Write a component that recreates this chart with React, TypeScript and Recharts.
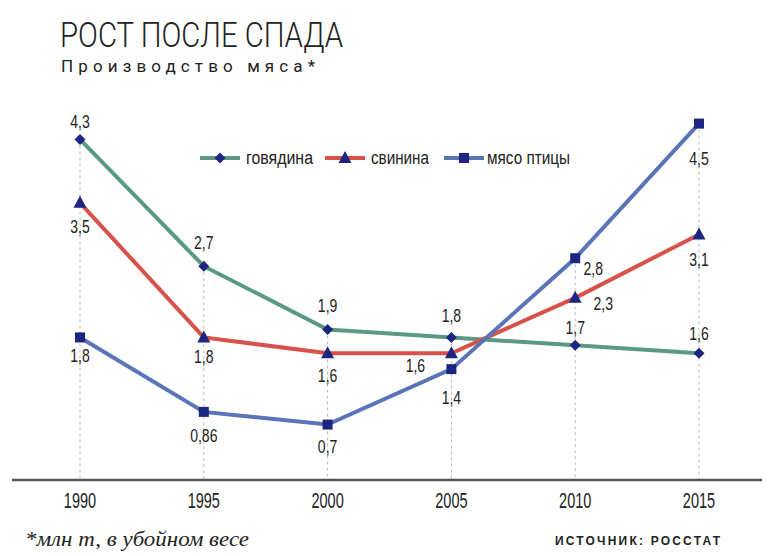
import React from 'react';
import { LineChart, Line, XAxis, YAxis, ReferenceLine, LabelList } from 'recharts';

const years = ['1990', '1995', '2000', '2005', '2010', '2015'];
const beef = [4.3, 2.7, 1.9, 1.8, 1.7, 1.6];
const pork = [3.5, 1.8, 1.6, 1.6, 2.3, 3.1];
const poultry = [1.8, 0.86, 0.7, 1.4, 2.8, 4.5];
const seriesNames = ['говядина', 'свинина', 'мясо птицы'];
const title = 'РОСТ ПОСЛЕ СПАДА';
const subtitle = 'Производство мяса*';
const footnote = '*млн т, в убойном весе';
const source = 'ИСТОЧНИК: РОССТАТ';

// label placement offsets [dx, dy] per point
const beefOff = [[0, -18], [0, -24], [0, -24], [0, -22], [0, -18], [0, -20]];
const porkOff = [[0, 24], [0, 19], [0, 22], [-36, 12], [28, 5], [0, 25]];
const poultryOff = [[0, 18], [0, 23], [0, 22], [0, 28], [18, 10], [0, 35]];

const data = years.map((y, i) => ({ year: y, beef: beef[i], pork: pork[i], poultry: poultry[i] }));

const SANS = "'Liberation Sans', Arial, sans-serif";
const GREEN = '#5b9a82';
const RED = '#d6524a';
const BLUE = '#5a74b8';
const NAVY = '#1c2580';

const Marker = ({ shape, cx, cy }: { shape: string; cx: number; cy: number }) => {
  if (shape === 'diamond') {
    const s = 5.5;
    return <path d={`M${cx},${cy - s}L${cx + s},${cy}L${cx},${cy + s}L${cx - s},${cy}Z`} fill={NAVY} />;
  }
  if (shape === 'triangle') {
    return <path d={`M${cx},${cy - 7}L${cx + 6.5},${cy + 5}L${cx - 6.5},${cy + 5}Z`} fill={NAVY} />;
  }
  return <rect x={cx - 5} y={cy - 5} width={10} height={10} fill={NAVY} />;
};

const makeDot = (shape: string) => (props: any) => (
  <Marker key={`${shape}-${props.index}`} shape={shape} cx={props.cx} cy={props.cy} />
);

const fmt = (v: number) => String(v).replace('.', ',');

const CondText = ({ x, y, size, sx, children }: any) => (
  <text
    transform={`translate(${x},${y}) scale(${sx},1)`}
    x={0}
    y={0}
    textAnchor="middle"
    dominantBaseline="central"
    fontFamily={SANS}
    fontSize={size}
    fill="#222"
  >
    {children}
  </text>
);

const makeLabel = (off: number[][]) => (props: any) => {
  const { x, y, value, index } = props;
  const [dx, dy] = off[index] || [0, 0];
  return (
    <CondText key={`lbl-${index}`} x={x + dx} y={y + dy} size={18} sx={0.78}>
      {fmt(value)}
    </CondText>
  );
};

const legendItems = [
  { name: seriesNames[0], color: GREEN, shape: 'diamond', x: 200, tx: 246, tw: 67 },
  { name: seriesNames[1], color: RED, shape: 'triangle', x: 325, tx: 371, tw: 58 },
  { name: seriesNames[2], color: BLUE, shape: 'square', x: 444, tx: 487, tw: 83 },
];

const renderTick = (p: any) => (
  <CondText x={p.x} y={p.y + 12} size={22} sx={0.66}>
    {p.payload.value}
  </CondText>
);

export default function App() {
  return (
    <div style={{ position: 'absolute', left: 0, top: 0, width: 784, height: 556, background: '#fff', overflow: 'hidden' }}>
      <LineChart
        width={784}
        height={556}
        data={data}
        margin={{ top: 84, left: 12, right: 22, bottom: 46 }}
      >
        <XAxis
          dataKey="year"
          padding={{ left: 68, right: 63 }}
          axisLine={{ stroke: '#555', strokeWidth: 2.5 }}
          tickLine={false}
          tick={renderTick}
          height={30}
        />
        <YAxis hide domain={[0, 5]} />
        {years.map((yr, i) => (
          <ReferenceLine
            key={yr}
            segment={[
              { x: yr, y: Math.max(beef[i], pork[i], poultry[i]) },
              { x: yr, y: 0 },
            ]}
            stroke="#bbb"
            strokeDasharray="3 3"
            strokeWidth={1}
          />
        ))}
        <Line
          type="linear"
          dataKey="beef"
          name={seriesNames[0]}
          stroke={GREEN}
          strokeWidth={4}
          dot={makeDot('diamond')}
          activeDot={false}
          isAnimationActive={false}
        >
          <LabelList dataKey="beef" content={makeLabel(beefOff)} />
        </Line>
        <Line
          type="linear"
          dataKey="pork"
          name={seriesNames[1]}
          stroke={RED}
          strokeWidth={4}
          dot={makeDot('triangle')}
          activeDot={false}
          isAnimationActive={false}
        >
          <LabelList dataKey="pork" content={makeLabel(porkOff)} />
        </Line>
        <Line
          type="linear"
          dataKey="poultry"
          name={seriesNames[2]}
          stroke={BLUE}
          strokeWidth={4}
          dot={makeDot('square')}
          activeDot={false}
          isAnimationActive={false}
        >
          <LabelList dataKey="poultry" content={makeLabel(poultryOff)} />
        </Line>
      </LineChart>
      <svg
        width={784}
        height={556}
        style={{ position: 'absolute', left: 0, top: 0, pointerEvents: 'none' }}
      >
        <text
          x={60}
          y={47}
          fontFamily="Roboto, 'Liberation Sans', sans-serif"
          fontWeight={300}
          fontSize={35}
          fill="#222"
          textLength={283}
          lengthAdjust="spacingAndGlyphs"
        >
          {title}
        </text>
        <text
          x={61}
          y={72}
          fontFamily="Roboto, 'Liberation Sans', sans-serif"
          fontSize={17}
          fill="#222"
          textLength={254}
          lengthAdjust="spacing"
        >
          {subtitle}
        </text>
        {legendItems.map((it) => (
          <g key={it.name}>
            <line x1={it.x} x2={it.x + 40} y1={158} y2={158} stroke={it.color} strokeWidth={4} />
            <Marker shape={it.shape} cx={it.x + 20} cy={158} />
            <text
              x={it.tx}
              y={158}
              dominantBaseline="central"
              fontFamily={SANS}
              fontSize={18}
              fill="#222"
              textLength={it.tw}
              lengthAdjust="spacingAndGlyphs"
            >
              {it.name}
            </text>
          </g>
        ))}
        <text
          x={25}
          y={546}
          fontFamily="'Liberation Serif', 'DejaVu Serif', serif"
          fontStyle="italic"
          fontSize={21}
          fill="#222"
          textLength={224}
          lengthAdjust="spacingAndGlyphs"
        >
          {footnote}
        </text>
        <text
          x={555}
          y={545}
          fontFamily={SANS}
          fontWeight={700}
          fontSize={12}
          fill="#222"
          textLength={165}
          lengthAdjust="spacing"
        >
          {source}
        </text>
      </svg>
    </div>
  );
}
